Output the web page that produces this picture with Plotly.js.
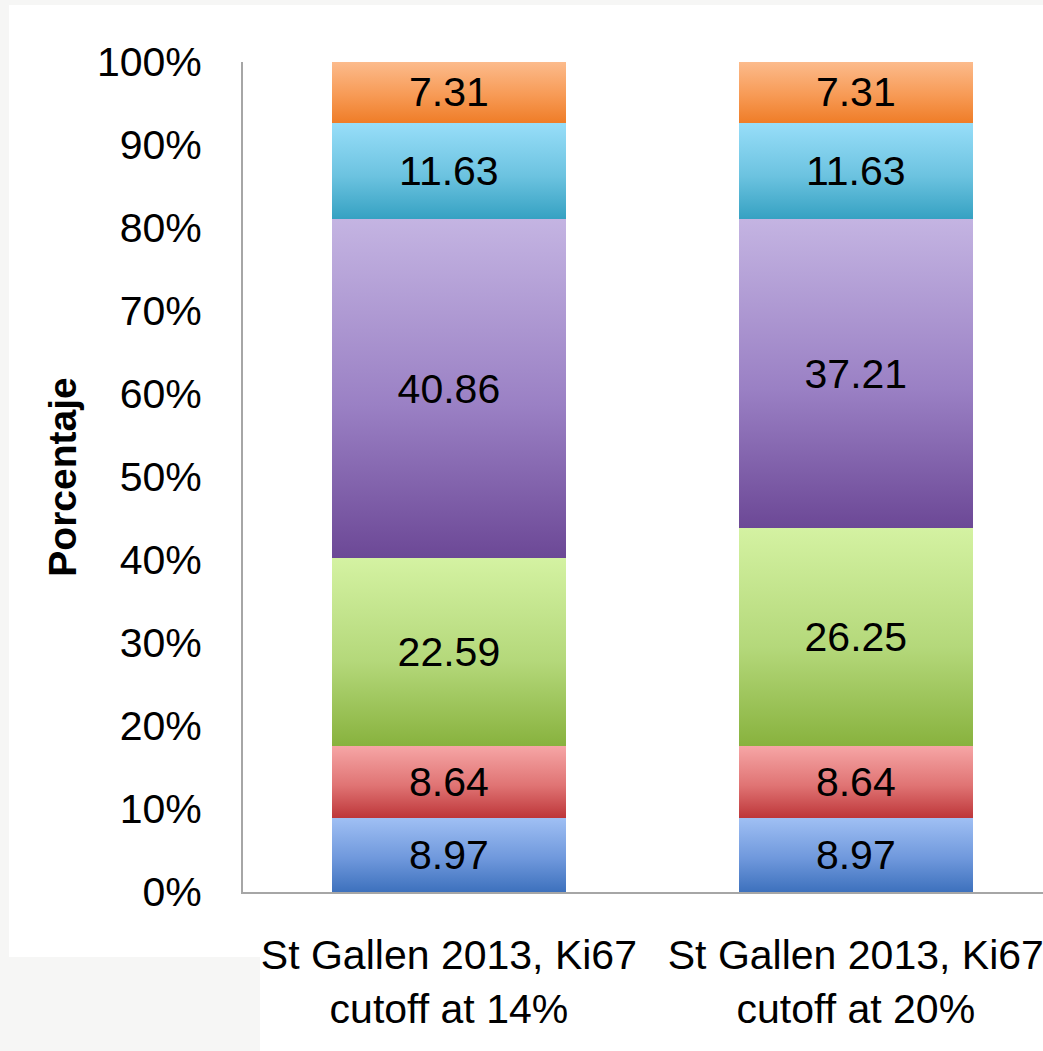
<!DOCTYPE html>
<html>
<head>
<meta charset="utf-8">
<script src="https://cdn.plot.ly/plotly-3.0.1.min.js"></script>
<style>html,body{margin:0;padding:0;background:#fff;}#chart{width:1043px;height:1051px;}</style>
</head>
<body>
<div id="chart"></div>
<script>
var categories = ["St Gallen 2013, Ki67<br>cutoff at 14%", "St Gallen 2013, Ki67<br>cutoff at 20%"];
var seriesNames = ["Serie 1", "Serie 2", "Serie 3", "Serie 4", "Serie 5", "Serie 6"];
var serie1 = [8.97, 8.97];
var serie2 = [8.64, 8.64];
var serie3 = [22.59, 26.25];
var serie4 = [40.86, 37.21];
var serie5 = [11.63, 11.63];
var serie6 = [7.31, 7.31];
var tickValues = [0, 10, 20, 30, 40, 50, 60, 70, 80, 90, 100];
var tickLabels = ["0%", "10%", "20%", "30%", "40%", "50%", "60%", "70%", "80%", "90%", "100%"];

var seriesValues = [serie1, serie2, serie3, serie4, serie5, serie6];
var solidColors = ["#6f98dc", "#e07474", "#b4d87a", "#9a80c4", "#6cc3e0", "#f79a55"];
var gradTop = ["#a0c0f4", "#f6a6a6", "#d4f2a2", "#c4b4e2", "#98def9", "#fcbb8c"];
var gradBottom = ["#3d71bd", "#be373a", "#88b23e", "#6c4896", "#35a1c2", "#ef7d28"];

var FONT = "Liberation Sans, Arial, sans-serif";

var traces = seriesValues.map(function (vals, i) {
  return {
    type: "bar",
    name: seriesNames[i],
    x: categories,
    y: vals,
    text: vals.map(function (v) { return v.toFixed(2); }),
    textposition: "inside",
    insidetextanchor: "middle",
    constraintext: "none",
    textangle: 0,
    textfont: { family: FONT, size: 41, color: "#000" },
    marker: { color: solidColors[i], line: { width: 0 } },
    width: 0.575,
    hoverinfo: "none"
  };
});

var layout = {
  width: 1043,
  height: 1051,
  margin: { l: 243, r: 0, t: 62, b: 159, pad: 0 },
  paper_bgcolor: "#ffffff",
  plot_bgcolor: "#ffffff",
  barmode: "stack",
  barnorm: "percent",
  showlegend: false,
  font: { family: FONT, color: "#000" },
  xaxis: {
    type: "category",
    range: [-0.506, 1.46],
    showgrid: false,
    zeroline: false,
    showline: true,
    linecolor: "#a6a6a6",
    linewidth: 2,
    ticks: "",
    tickangle: 0,
    ticklabelstandoff: 26,
    tickfont: { family: FONT, size: 41, color: "#000" },
    fixedrange: true
  },
  yaxis: {
    range: [0, 100],
    tickvals: tickValues,
    ticktext: tickLabels,
    showgrid: false,
    zeroline: false,
    showline: true,
    linecolor: "#a6a6a6",
    linewidth: 2,
    ticks: "",
    ticklabelstandoff: 31,
    tickfont: { family: FONT, size: 41, color: "#000" },
    title: {
      text: "<b>Porcentaje</b>",
      font: { family: FONT, size: 39, color: "#000" },
      standoff: 8
    },
    fixedrange: true
  },
  shapes: [
    { type: "rect", xref: "paper", yref: "paper", x0: -0.31, x1: -0.2925, y0: -0.2, y1: 1.08, fillcolor: "#f6f6f5", line: { width: 0 }, layer: "below" },
    { type: "rect", xref: "paper", yref: "paper", x0: -0.31, x1: 0.0213, y0: -0.2, y1: -0.0783, fillcolor: "#f6f6f5", line: { width: 0 }, layer: "below" },
    { type: "rect", xref: "paper", yref: "paper", x0: -0.31, x1: 1.01, y0: 1.0687, y1: 1.08, fillcolor: "#f6f6f5", line: { width: 0 }, layer: "below" }
  ]
};

function applyGradients(gd) {
  var defs = gd.querySelector(".main-svg defs");
  if (!defs) return;
  var ns = "http://www.w3.org/2000/svg";
  for (var i = 0; i < gradTop.length; i++) {
    var id = "barGrad" + i;
    if (!document.getElementById(id)) {
      var lg = document.createElementNS(ns, "linearGradient");
      lg.setAttribute("id", id);
      lg.setAttribute("x1", "0"); lg.setAttribute("y1", "0");
      lg.setAttribute("x2", "0"); lg.setAttribute("y2", "1");
      var s1 = document.createElementNS(ns, "stop");
      s1.setAttribute("offset", "0"); s1.setAttribute("stop-color", gradTop[i]);
      var s2 = document.createElementNS(ns, "stop");
      s2.setAttribute("offset", "0.55"); s2.setAttribute("stop-color", solidColors[i]);
      var s3 = document.createElementNS(ns, "stop");
      s3.setAttribute("offset", "1"); s3.setAttribute("stop-color", gradBottom[i]);
      lg.appendChild(s1); lg.appendChild(s2); lg.appendChild(s3);
      defs.appendChild(lg);
    }
  }
  var traceGroups = gd.querySelectorAll(".barlayer .trace.bars");
  traceGroups.forEach(function (tg, i) {
    tg.querySelectorAll(".point path").forEach(function (p) {
      p.style.fill = "url(#barGrad" + i + ")";
    });
  });
}

var gd = document.getElementById("chart");
Plotly.newPlot(gd, traces, layout, { displayModeBar: false, staticPlot: true }).then(function () {
  applyGradients(gd);
});
</script>
</body>
</html>
